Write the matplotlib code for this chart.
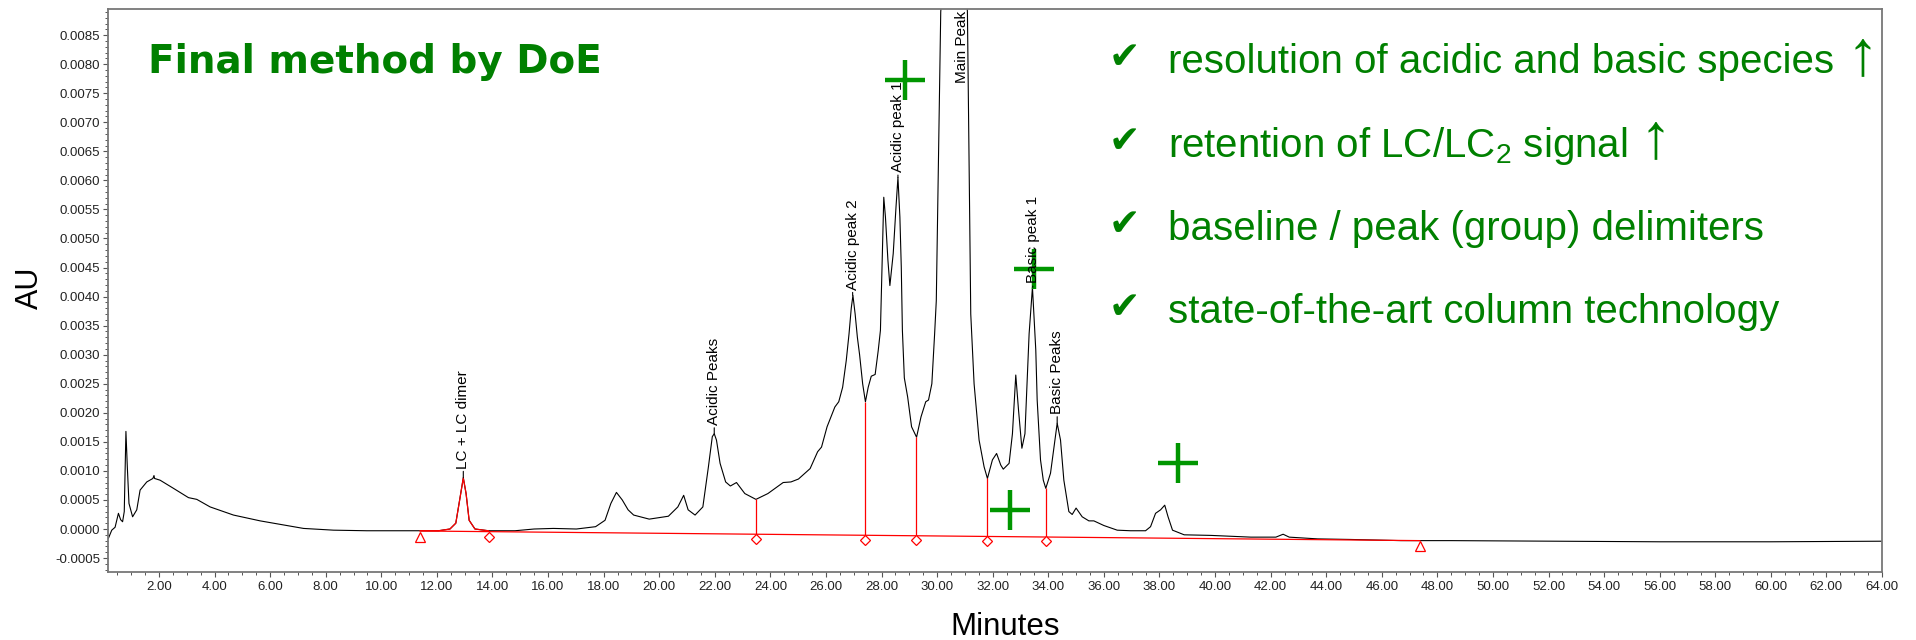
import numpy as np
import matplotlib
matplotlib.use('Agg')
import matplotlib.pyplot as plt
from matplotlib.ticker import MultipleLocator, FormatStrFormatter

plt.rcParams['font.family'] = ['Liberation Sans', 'DejaVu Sans']
plt.rcParams['mathtext.fontset'] = 'custom'
plt.rcParams['mathtext.rm'] = 'Liberation Sans'
plt.rcParams['mathtext.default'] = 'regular'

# chromatogram trace (minutes, AU)
time = [0.18, 0.30, 0.42, 0.54, 0.62, 0.69, 0.75, 0.81, 0.86, 0.92, 1.05, 1.20, 1.32,
        1.56, 1.78, 1.82, 1.84, 2.04, 2.52, 3.06, 3.36, 3.84, 4.68, 5.64, 6.48, 7.20,
        8.28, 9.48, 10.68, 11.40, 12.06, 12.47, 12.68, 12.82, 12.95, 13.05, 13.16, 13.37,
        13.85, 14.81, 15.50, 16.19, 17.02, 17.71, 18.05, 18.26, 18.46, 18.67, 18.88, 19.08,
        19.64, 20.33, 20.67, 20.88, 21.04, 21.29, 21.57, 21.77, 21.91, 21.98, 22.06, 22.19,
        22.39, 22.56, 22.78, 22.94, 23.08, 23.48, 23.91, 24.46, 24.74, 25.01, 25.43, 25.70,
        25.84, 26.04, 26.32, 26.46, 26.60, 26.73, 26.83, 26.91, 26.97, 27.05, 27.13, 27.21,
        27.32, 27.42, 27.52, 27.63, 27.77, 27.88, 27.96, 28.03, 28.08, 28.14, 28.23, 28.30,
        28.42, 28.52, 28.59, 28.66, 28.71, 28.75, 28.82, 28.94, 29.08, 29.26, 29.42, 29.59,
        29.69, 29.81, 29.91, 29.97, 30.13, 30.62, 31.09, 31.21, 31.33, 31.51, 31.69, 31.81,
        31.99, 32.14, 32.29, 32.38, 32.59, 32.71, 32.83, 32.93, 33.05, 33.16, 33.31, 33.43,
        33.55, 33.60, 33.72, 33.82, 33.91, 34.08, 34.22, 34.32, 34.44, 34.56, 34.74, 34.86,
        35.00, 35.22, 35.46, 35.64, 36.00, 36.48, 36.96, 37.50, 37.68, 37.86, 38.04, 38.19,
        38.31, 38.47, 38.89, 39.85, 41.29, 42.19, 42.45, 42.67, 43.69, 44.89, 46.69, 48.49,
        52.00, 56.00, 60.00, 64.00]
au = [-0.00016, -0.00002, 0.00003, 0.00027, 0.00016, 0.000125, 0.0003, 0.00168, 0.00107,
      0.00044, 0.00021, 0.00033, 0.00067, 0.00081, 0.00087, 0.00092, 0.00087, 0.00084,
      0.0007, 0.00054, 0.00051, 0.00038, 0.00024, 0.00014, 0.00007, 0.00001, -0.00002,
      -0.00003, -0.00003, -0.00003, -0.00003, 0.0, 0.0001, 0.0005, 0.00088, 0.00061,
      0.00015, 0.0, -0.00003, -0.00003, 0.0, 0.00001, 0.0, 0.00004, 0.00015, 0.00044,
      0.00063, 0.0005, 0.00033, 0.00024, 0.00017, 0.00022, 0.00038, 0.00058, 0.00033,
      0.00024, 0.00038, 0.00107, 0.00159, 0.00164, 0.00153, 0.00113, 0.00081, 0.00074,
      0.0008, 0.0007, 0.00061, 0.00051, 0.00061, 0.0008, 0.00081, 0.00086, 0.00104,
      0.00133, 0.00141, 0.00176, 0.0021, 0.00219, 0.00244, 0.0029, 0.00336, 0.0038,
      0.00402, 0.0037, 0.0033, 0.003, 0.0025, 0.00219, 0.00244, 0.00263, 0.00266, 0.00307,
      0.00342, 0.00480, 0.00571, 0.00537, 0.00462, 0.00419, 0.00474, 0.00554, 0.00605,
      0.00537, 0.00451, 0.00342, 0.0026, 0.00227, 0.00176, 0.00158, 0.00193, 0.00219,
      0.00222, 0.0025, 0.00336, 0.00393, 0.0089, 0.0125, 0.0089, 0.0037, 0.0025, 0.00153,
      0.00107, 0.00087, 0.00119, 0.0013, 0.0011, 0.00103, 0.00113, 0.00164, 0.00265,
      0.00204, 0.00139, 0.00164, 0.00336, 0.00416, 0.00308, 0.00222, 0.00119, 0.00084,
      0.0007, 0.00096, 0.00147, 0.00182, 0.00153, 0.00084, 0.0003, 0.00025, 0.00036,
      0.00021, 0.00014, 0.00014, 0.00006, -0.00002, -0.00003, -0.00003, 0.00004, 0.00027,
      0.00033, 0.00041, 0.00021, -0.00002, -0.0001, -0.00011, -0.00014, -0.00014,
      -0.00009, -0.00014, -0.00017, -0.00018, -0.0002, -0.0002, -0.00021, -0.00022,
      -0.00022, -0.00021]

# integration: baseline, drop lines, markers
base_t = [11.40, 47.37]
base_au = [-0.000034, -0.0002]
lc_start, lc_end = 11.40, 13.87
drop_t = [23.48, 27.42, 29.25, 31.80, 33.92]
drop_low = [-0.00009, -0.000108, -0.000116, -0.000128, -0.000138]
drop_high = [0.00051, 0.00219, 0.00158, 0.00087, 0.0007]
diamond_t = [13.87, 23.48, 27.42, 29.25, 31.80, 33.92]
diamond_au = [-0.00013, -0.00017, -0.00019, -0.00019, -0.00021, -0.00021]
triangle_t = [11.40, 47.37]
triangle_au = [-0.00014, -0.00029]

# peak names
peak_names = ['LC + LC dimer', 'Acidic Peaks', 'Acidic peak 2', 'Acidic peak 1',
              'Main Peak', 'Basic peak 1', 'Basic Peaks']
peak_t = [12.95, 21.98, 26.96, 28.59, 30.90, 33.44, 34.32]
peak_top = [0.00088, 0.00164, 0.00402, 0.00605, None, 0.00416, 0.00182]
name_au = [0.00104, 0.00179, 0.00412, 0.00614, 0.00768, 0.00423, 0.00198]

# green "+" marks
plus_t = [28.86, 33.47, 32.61, 38.66]
plus_au = [0.00773, 0.00448, 0.00033, 0.00113]

bullets = ['resolution of acidic and basic species',
           'retention of LC/LC$_2$ signal',
           'baseline / peak (group) delimiters',
           'state-of-the-art column technology']
bullet_up = [True, True, False, False]

green = '#008000'

fig = plt.figure(figsize=(19.16, 6.4), dpi=100)
ax = fig.add_axes([108 / 1916, 1 - 572 / 640, 1774 / 1916, 563 / 640])

t = np.array(time)
y = np.array(au)
ax.plot(t, y, color='black', lw=0.8)
m = (t >= lc_start) & (t <= lc_end)
ax.plot(t[m], y[m], color='red', lw=0.9)

ax.plot(base_t, base_au, color='red', lw=0.9)
ax.vlines(drop_t, drop_low, drop_high, color='red', lw=0.9)
ax.plot(diamond_t, diamond_au, 'D', ms=5.5, mfc='white', mec='red', mew=0.9, ls='none')
ax.plot(triangle_t, triangle_au, '^', ms=7, mfc='white', mec='red', mew=0.9, ls='none')

for name, pt, top, ya in zip(peak_names, peak_t, peak_top, name_au):
    if top is None:
        ax.text(pt, ya, name, rotation=90, ha='center', va='bottom', fontsize=11)
    else:
        ax.annotate(name, xy=(pt, top), xytext=(pt, ya), rotation=90,
                    ha='center', va='bottom', fontsize=11,
                    arrowprops=dict(arrowstyle='-', color='black', lw=0.8,
                                    shrinkA=0, shrinkB=0))

ax.plot(plus_t, plus_au, '+', ms=29, mew=3.2, color='#009600', ls='none')

ax.set_xlim(0.165, 64)
ax.set_ylim(-0.00074, 0.00895)
ax.xaxis.set_major_locator(MultipleLocator(2))
ax.xaxis.set_minor_locator(MultipleLocator(0.5))
ax.xaxis.set_major_formatter(FormatStrFormatter('%.2f'))
ax.yaxis.set_major_locator(MultipleLocator(0.0005))
ax.yaxis.set_minor_locator(MultipleLocator(0.0001))
ax.yaxis.set_major_formatter(FormatStrFormatter('%.4f'))
ax.tick_params(which='major', length=3.5, width=0.8, color='#555555',
               labelsize=9.5, labelcolor='#222222')
ax.tick_params(which='minor', length=2, width=0.7, color='#555555')
ax.tick_params(axis='y', pad=2)
ax.tick_params(axis='x', pad=3)
for s in ax.spines.values():
    s.set_color('#777777')
    s.set_linewidth(1.3)

fig.text(30 / 1916, 1 - 287.5 / 640, 'AU', rotation=90, ha='center', va='center',
         fontsize=22)
fig.text(1005 / 1916, 1 - 635 / 640, 'Minutes', ha='center', va='baseline',
         fontsize=22.5)

fig.text(148 / 1916, 1 - 73.3 / 640, 'Final method by DoE', family='DejaVu Sans',
         fontweight='bold', fontsize=28, color=green, va='baseline')

renderer = fig.canvas.get_renderer()
for i, line in enumerate(bullets):
    yb = 1 - (73.3 + i * 83.3) / 640
    fig.text(1109 / 1916, yb + 5 / 640, '\u2714', family='DejaVu Sans',
             fontsize=27, color=green, va='baseline')
    txt = fig.text(1168 / 1916, yb, line, fontsize=29, color=green, va='baseline')
    if bullet_up[i]:
        x1 = txt.get_window_extent(renderer).x1
        fig.text((x1 + 12) / 1916, yb - 1 / 640, '\u2191', family='Liberation Sans',
                 fontsize=46, fontweight='light', color=green, va='baseline')

fig.savefig('out.png', dpi=100)
